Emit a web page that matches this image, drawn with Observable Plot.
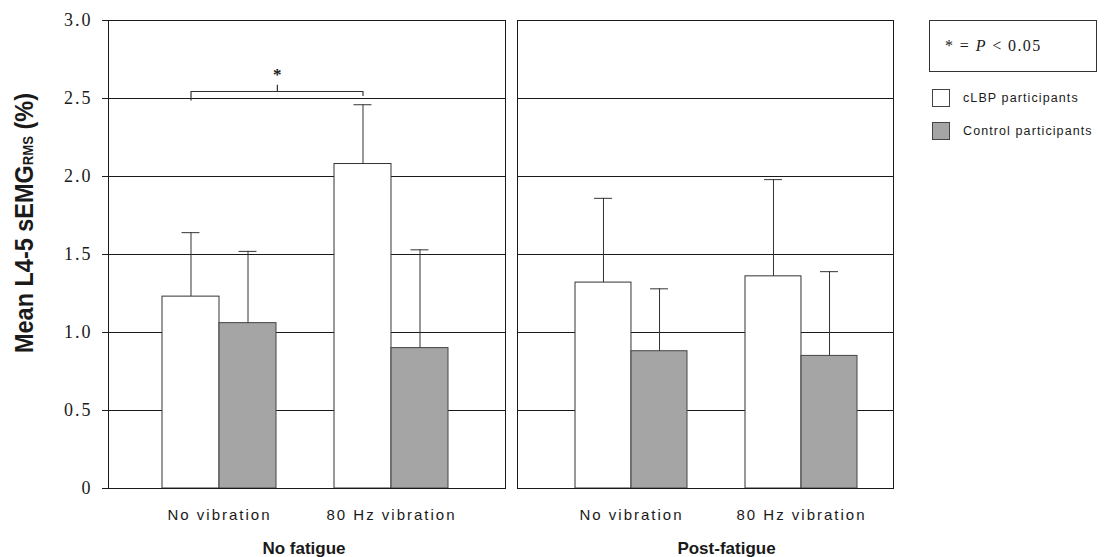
<!DOCTYPE html>
<html><head><meta charset="utf-8">
<script src="https://cdn.jsdelivr.net/npm/d3@7"></script>
<script src="https://cdn.jsdelivr.net/npm/@observablehq/plot@0.6"></script>
<style>
body{margin:0;background:#fff;}
#wrap{position:relative;width:1104px;height:557px;overflow:hidden;background:#fff;}
#left,#right,#legend{position:absolute;top:0;}
#left{left:0;} #right{left:512px;}
#legend{left:929px;top:20px;font-family:"Liberation Sans",Arial,sans-serif;color:#1a1a1a;}
.note{box-sizing:border-box;width:168px;height:52px;border:1px solid #333;display:flex;align-items:center;padding-left:15px;font-family:"Liberation Serif","Times New Roman",serif;font-size:16px;letter-spacing:1.4px;white-space:pre;}
.item{position:absolute;left:3px;display:flex;align-items:center;font-size:12.5px;letter-spacing:1.1px;white-space:nowrap;}
.sw{box-sizing:border-box;width:18px;height:18px;border:1px solid #444;margin-right:13px;}
</style></head><body>
<div id="wrap"><div id="left"></div><div id="right"></div><div id="legend"></div></div>
<script>
// ---- data ----
const conditions = ["No fatigue", "Post-fatigue"];
const vibrations = ["No vibration", "80 Hz vibration"];
const groups = ["cLBP participants", "Control participants"];
const groupFills = ["#ffffff", "#a5a5a5"];
// order: No fatigue/No vibration, No fatigue/80 Hz, Post-fatigue/No vibration, Post-fatigue/80 Hz
const cLBPMean = [1.23, 2.08, 1.32, 1.36];
const cLBPUpper = [1.64, 2.46, 1.86, 1.98];
const controlMean = [1.06, 0.90, 0.88, 0.85];
const controlUpper = [1.52, 1.53, 1.28, 1.39];
const yTicks = [0, 0.5, 1, 1.5, 2, 2.5, 3];
const yLabelMain = "Mean L4-5 sEMG";
const yLabelSub = "RMS";
const yLabelUnit = " (%)";
const sigNote = "* = P < 0.05";
const sigCondition = "No fatigue";
const sigFrom = "No vibration";
const sigTo = "80 Hz vibration";
const sigLevel = 2.545;
const sigDrops = [2.49, 2.52];
const sigMark = "*";

const rows = conditions.flatMap((c, ci) => vibrations.map((v, vi) => ({
  condition: c, vibration: v,
  cMean: cLBPMean[ci * 2 + vi], cUpper: cLBPUpper[ci * 2 + vi],
  kMean: controlMean[ci * 2 + vi], kUpper: controlUpper[ci * 2 + vi]
})));

const H = 557, MT = 20, MB = 69;
const ink = "#1a1a1a";

function panel(cfg) {
  const {condition, width, marginLeft, marginRight, paddingInner, paddingOuter, align, showY, labelDx} = cfg;
  const xs = d3.scaleBand().domain(vibrations).range([marginLeft, width - marginRight])
    .paddingInner(paddingInner).paddingOuter(paddingOuter).align(align);
  const bw = xs.bandwidth(), step = xs.step(), q = bw / 4, cap = 9;
  const data = rows.filter(d => d.condition === condition);
  const marks = [
    Plot.ruleY(yTicks, {stroke: ink, strokeWidth: 1}),
    Plot.barY(data, {x: "vibration", y: "cMean", insetRight: bw / 2, fill: groupFills[0], stroke: "#333", strokeWidth: 1}),
    Plot.barY(data, {x: "vibration", y: "kMean", insetLeft: bw / 2, fill: groupFills[1], stroke: "#444", strokeWidth: 1}),
    Plot.ruleX(data, {x: "vibration", y1: "cMean", y2: "cUpper", dx: -q, stroke: "#333"}),
    Plot.ruleX(data, {x: "vibration", y1: "kMean", y2: "kUpper", dx: q, stroke: "#333"}),
    Plot.tickY(data, {x: "vibration", y: "cUpper", insetLeft: q - cap, insetRight: 3 * q - cap, stroke: "#333"}),
    Plot.tickY(data, {x: "vibration", y: "kUpper", insetLeft: 3 * q - cap, insetRight: q - cap, stroke: "#333"}),
    Plot.ruleY([0], {stroke: ink}),
    Plot.frame({stroke: ink}),
    Plot.axisX({tickSize: 0, tickPadding: 21, fontSize: 15, label: null, color: ink}),
    Plot.text([condition], {text: d => d, frameAnchor: "bottom", dy: 65, dx: labelDx, fontSize: 17, fontWeight: "bold", lineAnchor: "bottom", fill: ink, ariaLabel: "facet-label"})
  ];
  if (condition === sigCondition) {
    const pts = [
      {x: sigFrom, y: sigDrops[0]}, {x: sigFrom, y: sigLevel},
      {x: sigTo, y: sigLevel}, {x: sigTo, y: sigDrops[1]}
    ];
    marks.push(Plot.line(pts, {x: "x", y: "y", dx: -q, stroke: "#333", strokeWidth: 1.2}));
    marks.push(Plot.ruleX([sigFrom], {x: d => d, y1: sigLevel, y2: sigLevel + 0.04, dx: step / 2 - q, stroke: "#333", strokeWidth: 1.2}));
    marks.push(Plot.text([sigMark], {x: () => sigFrom, y: () => sigLevel, text: d => d, dx: step / 2 - q, dy: -17, fontSize: 17, fontWeight: "bold", fontFamily: "Liberation Serif, serif", fill: ink}));
  }
  if (showY) {
    marks.push(Plot.axisY({ticks: yTicks, tickFormat: d => d === 0 ? "0" : d.toFixed(1), tickSize: 6, tickPadding: 10,
      label: null, color: ink}));
  }
  const svg = Plot.plot({
    width, height: H, marginLeft, marginRight, marginTop: MT, marginBottom: MB,
    x: {domain: vibrations, paddingInner, paddingOuter, align},
    y: {domain: [0, 3], axis: showY ? undefined : null},
    style: {fontFamily: "Liberation Sans, Arial, sans-serif", background: "transparent", overflow: "visible", color: ink},
    marks
  });
  const s = d3.select(svg);
  s.selectAll('g[aria-label="x-axis tick label"]').attr("font-size", 15);
  s.selectAll('g[aria-label="x-axis tick label"] text').attr("letter-spacing", "2");
  s.selectAll('g[aria-label="facet-label"] text').attr("letter-spacing", "2.2");
  s.selectAll('g[aria-label="y-axis tick label"]')
    .attr("font-family", "Liberation Serif, Times New Roman, serif").attr("font-size", 18);
  s.selectAll('g[aria-label="y-axis tick label"] text').attr("letter-spacing", "2");
  if (showY) {
    const t = s.append("text")
      .attr("transform", "translate(33,223) rotate(-90)")
      .attr("text-anchor", "middle")
      .attr("font-family", "Liberation Sans, Arial, sans-serif")
      .attr("font-weight", "bold").attr("font-size", 25).attr("fill", ink)
      .attr("textLength", 260).attr("lengthAdjust", "spacingAndGlyphs");
    t.append("tspan").text(yLabelMain);
    t.append("tspan").attr("font-size", 14).text(yLabelSub);
    t.append("tspan").text(yLabelUnit);
  }
  return svg;
}

document.getElementById("left").append(panel({
  condition: conditions[0], width: 506, marginLeft: 108, marginRight: 1,
  paddingInner: 0.34, paddingOuter: 0.319, align: 0.48, showY: true, labelDx: -3
}));
document.getElementById("right").append(panel({
  condition: conditions[1], width: 383, marginLeft: 5, marginRight: 2,
  paddingInner: 0.341, paddingOuter: 0.276, align: 0.617, showY: false, labelDx: 21
}));

// legend
const legend = document.getElementById("legend");
const note = document.createElement("div");
note.className = "note";
const span = document.createElement("span");
const [pre, post] = sigNote.split("P");
span.append(pre);
const it = document.createElement("i"); it.textContent = "P"; span.append(it);
span.append(post);
note.append(span);
legend.append(note);
groups.forEach((g, i) => {
  const row = document.createElement("div");
  row.className = "item";
  row.style.top = (69 + i * 33) + "px";
  const sw = document.createElement("span");
  sw.className = "sw"; sw.style.background = groupFills[i];
  row.append(sw, g);
  legend.append(row);
});
</script>
</body></html>
